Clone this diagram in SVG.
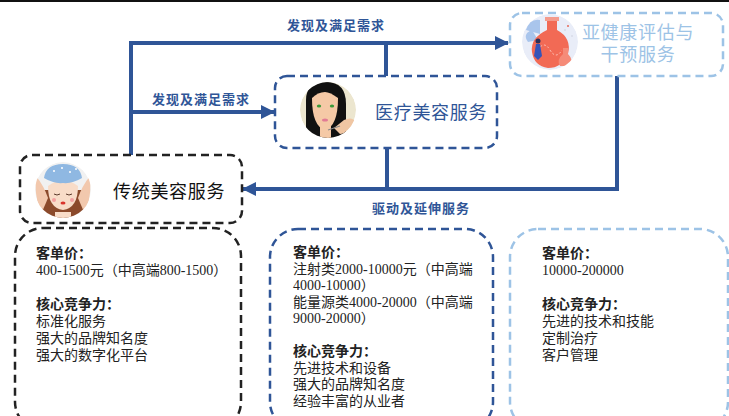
<svg xmlns="http://www.w3.org/2000/svg" width="729" height="416" viewBox="0 0 729 416">
  <defs>
    <style>
      .cn { font-family: "Liberation Serif", "Noto Sans CJK SC", serif; }
      .title { font-size: 18px; letter-spacing: 0.7px; }
      .link-label { font-size: 13px; font-weight: bold; fill: #2f5597; letter-spacing: 1px; }
      .body { font-size: 14px; fill: #222; }
      .head { font-weight: bold; }
      .conn { fill: none; stroke: #2f5597; stroke-width: 4; }
      .box-black { fill: #fff; stroke: #222; stroke-width: 2.5; stroke-dasharray: 8 5; }
      .box-blue { fill: #fff; stroke: #2f5597; stroke-width: 2.5; stroke-dasharray: 8 5; }
      .box-light { fill: #fff; stroke: #9dc3e6; stroke-width: 2.5; stroke-dasharray: 8 5; }
    </style>
    <marker id="arrow" markerUnits="userSpaceOnUse" markerWidth="14" markerHeight="14" refX="13" refY="7" orient="auto">
      <path d="M0,0 L14,7 L0,14 Z" fill="#2f5597"/>
    </marker>
    <clipPath id="clip1"><circle cx="63" cy="190" r="28"/></clipPath>
    <clipPath id="clip2"><circle cx="328" cy="110" r="28"/></clipPath>
    <clipPath id="clip3"><circle cx="550" cy="42" r="28"/></clipPath>
  </defs>

  <rect width="729" height="416" fill="#fff"/>
  <rect x="0" y="0" width="729" height="2" fill="#111"/>

  <!-- connectors -->
  <g id="connectors">
    <path class="conn" d="M131,157 V43 H508" marker-end="url(#arrow)"/>
    <path class="conn" d="M131,112 H274" marker-end="url(#arrow)"/>
    <path class="conn" d="M386,76 V43"/>
    <path class="conn" d="M617,76 V189 H243" marker-end="url(#arrow)"/>
    <path class="conn" d="M387,148 V189"/>
    <text class="cn link-label" x="287" y="30">发现及满足需求</text>
    <text class="cn link-label" x="152" y="104">发现及满足需求</text>
    <text class="cn link-label" x="372" y="213">驱动及延伸服务</text>
  </g>

  <!-- traditional beauty service -->
  <g id="node-traditional">
    <rect class="box-black" x="20" y="155" width="222" height="68" rx="12"/>
    <g clip-path="url(#clip1)">
      <circle cx="63" cy="190" r="28" fill="#f1f1f1"/>
      <path d="M42,190 Q40,214 48,222 L78,222 Q86,214 84,190 Z" fill="#8b4a2b"/>
      <path d="M48,186 Q48,208 63,210 Q78,208 78,186 Q70,180 63,180 Q56,180 48,186 Z" fill="#f8dcc8"/>
      <path d="M44,178 Q46,164 63,164 Q80,164 82,178 Q72,184 63,183 Q54,184 44,178 Z" fill="#8fb8e2"/>
      <circle cx="54" cy="171" r="1" fill="#fff"/>
      <circle cx="62" cy="168" r="1" fill="#fff"/>
      <circle cx="70" cy="172" r="1" fill="#fff"/>
      <circle cx="76" cy="169" r="1" fill="#fff"/>
      <path d="M54,194 q3,2 6,0 M66,194 q3,2 6,0" stroke="#5a3a2a" stroke-width="1" fill="none"/>
      <ellipse cx="63" cy="203" rx="2.5" ry="1.5" fill="#d9342b"/>
      <circle cx="54" cy="200" r="2" fill="#f3a0a0"/>
      <circle cx="72" cy="200" r="2" fill="#f3a0a0"/>
      <path d="M36,176 Q44,186 48,198 L42,212 Q34,200 36,176 Z" fill="#f2c8ad"/>
      <path d="M90,176 Q82,186 78,198 L84,212 Q92,200 90,176 Z" fill="#f2c8ad"/>
      <rect x="55" y="212" width="16" height="10" fill="#f8dcc8"/>
    </g>
    <text class="cn title" x="113" y="198" fill="#111">传统美容服务</text>
  </g>

  <!-- medical beauty service -->
  <g id="node-medical">
    <rect class="box-blue" x="275" y="76" width="222" height="72" rx="12"/>
    <g clip-path="url(#clip2)">
      <circle cx="328" cy="110" r="28" fill="#ece6cf"/>
      <path d="M306,100 Q306,82 326,82 Q346,82 346,104 L346,138 L306,138 Z" fill="#111"/>
      <path d="M312,98 Q312,126 325,130 Q338,126 338,98 Q330,92 325,92 Q318,92 312,98 Z" fill="#f5c9a6"/>
      <rect x="320" y="126" width="11" height="14" fill="#f5c9a6"/>
      <ellipse cx="319" cy="106" rx="2.2" ry="1.6" fill="#3a9a3a"/>
      <ellipse cx="332" cy="106" rx="2.2" ry="1.6" fill="#3a9a3a"/>
      <ellipse cx="325" cy="120" rx="3" ry="1.6" fill="#e27b95"/>
      <path d="M334,128 L344,120 Q352,116 356,122 L352,132 L340,134 Z" fill="#f0c6a3"/>
      <path d="M328,130 L340,126" stroke="#888" stroke-width="1.2"/>
      <path d="M345,138 L356,126 L356,138 Z" fill="#c8c8c8"/>
    </g>
    <text class="cn title" x="375" y="119" fill="#2f5597">医疗美容服务</text>
  </g>

  <!-- sub-health assessment and intervention -->
  <g id="node-subhealth">
    <rect class="box-light" x="510" y="13" width="213" height="63" rx="12"/>
    <g clip-path="url(#clip3)">
      <circle cx="550" cy="42" r="28" fill="#e9edf8"/>
      <path d="M526,30 Q530,18 540,20 L540,34 Z" fill="#a9c5ec"/>
      <path d="M528,42 Q522,34 532,30 L538,40 Z" fill="#a9c5ec"/>
      <path d="M547,20 L557,20 L557,30 Q572,38 568,54 Q562,68 548,68 Q534,66 532,52 Q530,38 547,30 Z" fill="#f26a55"/>
      <rect x="545" y="17" width="14" height="4" fill="#f49b8c"/>
      <path d="M538,50 q6,-10 12,0 q6,10 12,0" stroke="#fbc3b8" stroke-width="1" fill="none" stroke-dasharray="2 2"/>
      <path d="M563,48 L568,48 L568,54 Q574,60 570,66 L560,66 Q556,60 563,54 Z" fill="#f58b78"/>
      <circle cx="565" cy="30" r="1" fill="#d7dbe8"/>
      <circle cx="572" cy="36" r="1" fill="#d7dbe8"/>
      <circle cx="568" cy="26" r="1" fill="#e46a5a"/>
      <path d="M536,44 L540,44 L542,56 L538,60 L534,56 Z" fill="#3553b8"/>
      <circle cx="538" cy="41" r="2.5" fill="#2a2f5a"/>
    </g>
    <text class="cn title" x="638" y="39" fill="#9dc3e6" text-anchor="middle">亚健康评估与</text>
    <text class="cn title" x="638" y="61" fill="#9dc3e6" text-anchor="middle">干预服务</text>
  </g>

  <!-- detail card: traditional -->
  <g id="card-traditional">
    <rect class="box-black" x="15" y="228" width="226" height="202" rx="28"/>
    <text class="cn body" x="36">
      <tspan class="head" x="36" y="258">客单价：</tspan>
      <tspan x="36" y="275">400-1500元（中高端800-1500）</tspan>
      <tspan class="head" x="36" y="309">核心竞争力：</tspan>
      <tspan x="36" y="326">标准化服务</tspan>
      <tspan x="36" y="343">强大的品牌知名度</tspan>
      <tspan x="36" y="360">强大的数字化平台</tspan>
    </text>
  </g>

  <!-- detail card: medical -->
  <g id="card-medical">
    <rect class="box-blue" x="270" y="229" width="223" height="201" rx="28"/>
    <text class="cn body" x="293">
      <tspan class="head" x="293" y="257">客单价：</tspan>
      <tspan x="293" y="273.5">注射类2000-10000元（中高端</tspan>
      <tspan x="293" y="290">4000-10000）</tspan>
      <tspan x="293" y="306.5">能量源类4000-20000（中高端</tspan>
      <tspan x="293" y="323">9000-20000）</tspan>
      <tspan class="head" x="293" y="356">核心竞争力：</tspan>
      <tspan x="293" y="372.5">先进技术和设备</tspan>
      <tspan x="293" y="389">强大的品牌知名度</tspan>
      <tspan x="293" y="405.5">经验丰富的从业者</tspan>
    </text>
  </g>

  <!-- detail card: sub-health -->
  <g id="card-subhealth">
    <rect class="box-light" x="510" y="229" width="218" height="201" rx="28"/>
    <text class="cn body" x="542">
      <tspan class="head" x="542" y="258">客单价：</tspan>
      <tspan x="542" y="275">10000-200000</tspan>
      <tspan class="head" x="542" y="309">核心竞争力：</tspan>
      <tspan x="542" y="326">先进的技术和技能</tspan>
      <tspan x="542" y="343">定制治疗</tspan>
      <tspan x="542" y="360">客户管理</tspan>
    </text>
  </g>
</svg>
